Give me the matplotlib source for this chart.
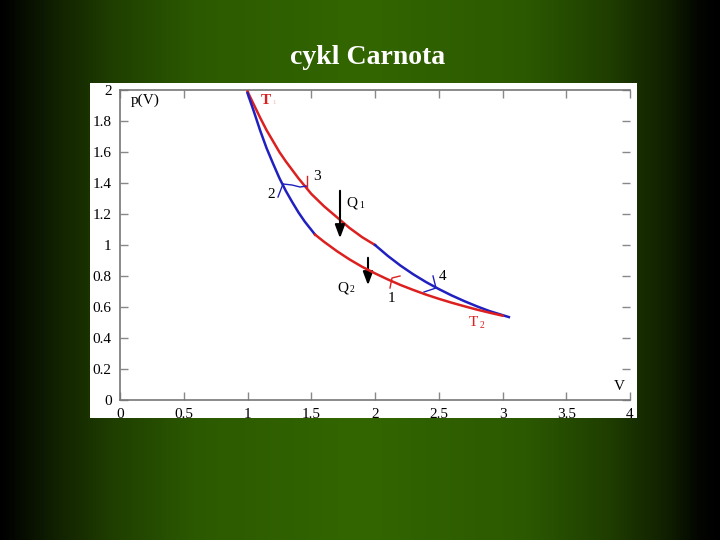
import numpy as np
import matplotlib
matplotlib.use("Agg")
import matplotlib.pyplot as plt
from matplotlib.colors import LinearSegmentedColormap

# ---- data ----
# upper isotherm T1 (red), V from 1 to 2
v_iso_hot = [1.0, 1.05, 1.1, 1.15, 1.2, 1.25, 1.3, 1.4, 1.5, 1.6, 1.7, 1.8, 1.9, 2.0]
p_iso_hot = [1.99, 1.905, 1.82, 1.74, 1.67, 1.60, 1.54, 1.43, 1.33, 1.25, 1.18, 1.11, 1.05, 1.00]
# right adiabat (blue), V from 2 to 3
v_adi_right = [2.0, 2.1, 2.2, 2.3, 2.4, 2.5, 2.6, 2.7, 2.8, 2.9, 3.05]
p_adi_right = [1.00, 0.93, 0.867, 0.811, 0.761, 0.716, 0.675, 0.638, 0.604, 0.573, 0.535]
# lower isotherm T2 (red), V from 3 back to 1.53
v_iso_cold = [3.0, 2.9, 2.8, 2.7, 2.6, 2.5, 2.4, 2.3, 2.2, 2.1, 2.0, 1.9, 1.8, 1.7, 1.6, 1.53]
p_iso_cold = [0.544, 0.563, 0.583, 0.605, 0.628, 0.653, 0.680, 0.710, 0.742, 0.778,
              0.817, 0.859, 0.907, 0.961, 1.021, 1.067]
# left adiabat (blue), V from 1.53 back to 1
v_adi_left = [1.53, 1.45, 1.4, 1.35, 1.3, 1.25, 1.2, 1.15, 1.1, 1.05, 1.0]
p_adi_left = [1.067, 1.150, 1.210, 1.278, 1.350, 1.432, 1.526, 1.624, 1.737, 1.861, 1.98]

x_ticks = [0, 0.5, 1, 1.5, 2, 2.5, 3, 3.5, 4]
x_tick_labels = ["0", "0.5", "1", "1.5", "2", "2.5", "3", "3.5", "4"]
y_ticks = [0, 0.2, 0.4, 0.6, 0.8, 1, 1.2, 1.4, 1.6, 1.8, 2]
y_tick_labels = ["0", "0.2", "0.4", "0.6", "0.8", "1", "1.2", "1.4", "1.6", "1.8", "2"]

title = "cykl Carnota"

RED = "#dc2020"
BLUE = "#2020c0"
SERIF = ["Liberation Serif", "DejaVu Serif"]

W, H = 720, 540
fig = plt.figure(figsize=(7.2, 5.4), dpi=100)

# background gradient
bg = fig.add_axes([0, 0, 1, 1])
bg.set_axis_off()
cmap = LinearSegmentedColormap.from_list(
    "bgc",
    [(0.0, (0, 0, 0)), (0.012, (0.01, 0.02, 0)), (0.07, (0.06, 0.12, 0.0)),
     (0.15, (0.12, 0.24, 0.0)), (0.27, (0.17, 0.35, 0.0)), (0.5, (0.20, 0.40, 0.0)),
     (0.73, (0.17, 0.35, 0.0)), (0.85, (0.12, 0.24, 0.0)), (0.93, (0.06, 0.12, 0.0)),
     (0.975, (0.01, 0.02, 0)), (1.0, (0, 0, 0))])
grad = np.linspace(0, 1, 720).reshape(1, -1)
bg.imshow(grad, cmap=cmap, aspect="auto", extent=[0, 1, 0, 1])
bg.set_xlim(0, 1)
bg.set_ylim(0, 1)

# white panel
panel = fig.add_axes([90 / W, 1 - 418 / H, (637 - 90) / W, (418 - 83) / H])
panel.set_facecolor("white")
panel.set_xticks([])
panel.set_yticks([])
for s in panel.spines.values():
    s.set_visible(False)

fig.text(368 / W, 1 - 57 / H, title, color="white", fontsize=20, fontweight="bold",
         family=SERIF, ha="center", va="center")

ax = fig.add_axes([120 / W, 1 - 400 / H, 510 / W, 310 / H])
ax.set_facecolor("none")
ax.set_xlim(0, 4)
ax.set_ylim(0, 2)
ax.set_xticks(x_ticks)
ax.set_xticklabels(x_tick_labels)
ax.set_yticks(y_ticks)
ax.set_yticklabels(y_tick_labels)
for lab in ax.get_xticklabels() + ax.get_yticklabels():
    lab.set_family(SERIF)
    lab.set_fontsize(11)
    lab.set_color("black")
ax.tick_params(direction="in", length=6, color="#888888", width=1,
               top=True, right=True, pad=6)
for s in ["left", "bottom", "top"]:
    ax.spines[s].set_color("#777777")
    ax.spines[s].set_linewidth(1.2)
ax.spines["right"].set_visible(False)

lw = 1.8
ax.plot(v_iso_hot, p_iso_hot, color=RED, lw=lw, zorder=3)
ax.plot(v_adi_right, p_adi_right, color=BLUE, lw=lw, zorder=3)
ax.plot(v_iso_cold, p_iso_cold, color=RED, lw=lw, zorder=4)
ax.plot(v_adi_left, p_adi_left, color=BLUE, lw=lw, zorder=3)

def px(x, y):
    return ((x - 120) / 127.5, (400 - y) / 155)

# small direction marks
def seg(points, color, lw=1.0):
    xs, ys = zip(*[px(*p) for p in points])
    ax.plot(xs, ys, color=color, lw=lw, zorder=5)

seg([(278, 197), (283, 184)], BLUE)
seg([(283, 184), (292, 185), (300, 187), (307, 186)], BLUE)
seg([(307, 176), (307, 187)], RED)
seg([(390, 288), (392, 278), (400, 276)], RED)
seg([(433, 276), (436, 288), (424, 292)], BLUE)

ax.annotate("", xy=px(340, 241), xytext=px(340, 188),
            arrowprops=dict(arrowstyle="-|>,head_width=0.3,head_length=0.8",
                            color="black", lw=1.5))
ax.annotate("", xy=px(368, 288), xytext=px(368, 255),
            arrowprops=dict(arrowstyle="-|>,head_width=0.3,head_length=0.8",
                            color="black", lw=1.5))

tk = dict(family=SERIF, fontsize=11, color="black", va="center", ha="left")
ax.text(*px(131, 100), "p(V)", **tk)
ax.text(*px(614, 386), "V", **tk)
ax.text(*px(313, 177), "3", **tk)
ax.text(*px(267, 195), "2", **tk)
ax.text(*px(388, 298), "1", **tk)
ax.text(*px(439, 276), "4", **tk)
ax.text(*px(346, 203), "Q", **tk)
ax.text(*px(359, 206), "1", family=SERIF, fontsize=7, color="black", va="center")
ax.text(*px(337, 288), "Q", **tk)
ax.text(*px(350, 290), "2", family=SERIF, fontsize=7, color="black", va="center")
ax.text(*px(261, 100), "T", family=SERIF, fontsize=11, fontweight="bold",
        color=RED, va="center")
ax.text(*px(272, 103), "1", family=SERIF, fontsize=5, color="#f0b0b0", va="center")
ax.text(*px(469, 322), "T", family=SERIF, fontsize=11, color=RED, va="center")
ax.text(*px(480, 325), "2", family=SERIF, fontsize=7, color=RED, va="center")

fig.savefig("out.png", dpi=100)
